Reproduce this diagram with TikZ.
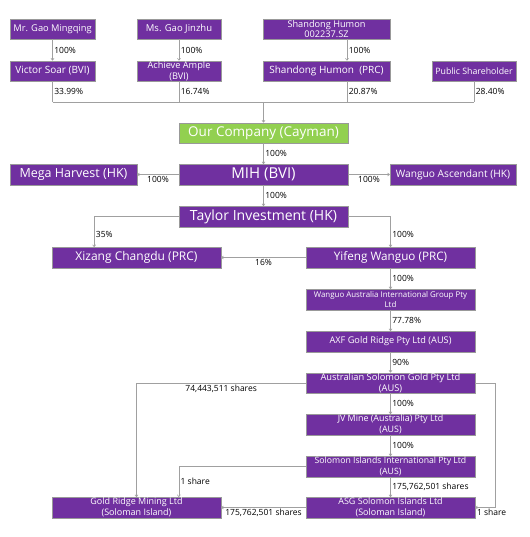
\documentclass[tikz,border=0pt]{standalone}
\usepackage{fontspec}
\setmainfont{Open Sans}
\usetikzlibrary{arrows.meta,calc}
\definecolor{ownpurple}{HTML}{7030A0}
\definecolor{owngreen}{HTML}{92D050}
\definecolor{linkgray}{HTML}{A0A0A0}
\newcommand\fsz[2]{\fontsize{#1}{#2}\selectfont}

\begin{document}
\begin{tikzpicture}[x=1pt, y=-1pt,
		entity/.style={draw=black!40, line width=0.4pt, fill=ownpurple, text=white, minimum height=20.5pt, inner sep=0pt, align=center},
		holdco/.style={entity, fill=owngreen},
		link/.style={draw=linkgray, line width=0.6pt},
		own/.style={link, -{To[length=2.5pt,width=3.5pt]}},
		pct/.style={font=\fsz{8.5}{10}, text=black, inner sep=1.5pt}]
			%%%%% START %%%%%
			\useasboundingbox (0,0) rectangle (529,537);
			
			\node[entity, minimum width=85, font=\fsz{9.3}{11}] (mingqing) at (52.5,29) {Mr. Gao Mingqing};
			\node[entity, minimum width=84, font=\fsz{9.5}{11}] (jinzhu) at (179,29) {Ms. Gao Jinzhu};
			\node[entity, minimum width=127, font=\fsz{9.2}{10.5}] (humonsz) at (326.5,29) {Shandong Humon\\002237.SZ};
			\node[entity, minimum width=85, font=\fsz{10}{11}] (victor) at (52.5,71) {Victor Soar (BVI)};
			\node[entity, minimum width=84, font=\fsz{9.2}{10.5}] (achieve) at (179,71) {Achieve Ample\\(BVI)};
			\node[entity, minimum width=127, font=\fsz{10}{11}] (humon) at (326.5,71) {Shandong Humon~~(PRC)};
			\node[entity, minimum width=84, font=\fsz{8.8}{11}] (public) at (474,71) {Public Shareholder};
			
			\coordinate (bus) at (263.5,102);
			\draw[own] (mingqing) -- node[pct, right]{100\%} (victor);
			\draw[own] (jinzhu) -- node[pct, right]{100\%} (achieve);
			\draw[own] ([xshift=20.5]humonsz.south) -- node[pct, right]{100\%} ([xshift=20.5]humon.north);
			\draw[link] (victor) -- node[pct, right]{33.99\%} (victor |- bus);
			\draw[link] (achieve) -- node[pct, right]{16.74\%} (achieve |- bus);
			\draw[link] ([xshift=20.5]humon.south) -- node[pct, right]{20.87\%} ([xshift=20.5]humon.south |- bus);
			\draw[link] (public) -- node[pct, right]{28.40\%} (public |- bus);
			\draw[link] (victor |- bus) -- (public |- bus);
			
			\node[holdco, minimum width=169, font=\fsz{13.5}{15}] (company) at (263.5,133) {Our Company (Cayman)};
			\node[entity, minimum width=169, font=\fsz{15}{17}] (mih) at (263.5,174.5) {MIH (BVI)};
			\node[entity, minimum width=127, font=\fsz{12.5}{14}] (mega) at (73.5,174.5) {Mega Harvest (HK)};
			\node[entity, minimum width=126, font=\fsz{10.2}{12}] (ascendant) at (453,174.5) {Wanguo Ascendant (HK)};
			\node[entity, minimum width=169, font=\fsz{14}{16}] (taylor) at (263.5,216.5) {Taylor Investment (HK)};
			\node[entity, minimum width=169, font=\fsz{12}{14}] (xizang) at (136.5,257.5) {Xizang Changdu (PRC)};
			\node[entity, minimum width=169, font=\fsz{11.7}{14}] (yifeng) at (390.5,257.5) {Yifeng Wanguo (PRC)};
			
			\draw[own] (bus) -- (company);
			\draw[own] (company) -- node[pct, right]{100\%} (mih);
			\draw[own] (mih) -- node[pct, below]{100\%} (mega);
			\draw[own] (mih) -- node[pct, below]{100\%} (ascendant);
			\draw[own] (mih) -- node[pct, right]{100\%} (taylor);
			\draw[own] (taylor.west) -| node[pct, pos=0.8, right]{35\%} ($(xizang.north west)!0.25!(xizang.north east)$);
			\draw[own] (taylor.east) -| node[pct, pos=0.8, right]{100\%} (yifeng.north);
			\draw[own] (yifeng) -- node[pct, below]{16\%} (xizang);
			
			\node[entity, minimum width=169, font=\fsz{7.9}{9.5}] (wanguo) at (390.5,299.5) {Wanguo Australia International Group Pty\\Ltd};
			\node[entity, minimum width=169, font=\fsz{9.2}{11}] (axf) at (390.5,341.5) {AXF Gold Ridge Pty Ltd (AUS)};
			\node[entity, minimum width=169, font=\fsz{9.3}{11}] (asg) at (390.5,383) {Australian Solomon Gold Pty Ltd\\(AUS)};
			\node[entity, minimum width=169, font=\fsz{8.9}{11}] (jv) at (390.5,424.5) {JV Mine (Australia) Pty Ltd\\(AUS)};
			\node[entity, minimum width=169, font=\fsz{8.7}{11}] (sii) at (390.5,466.5) {Solomon Islands International Pty Ltd\\(AUS)};
			\node[entity, minimum width=169, font=\fsz{9}{11}] (asgsi) at (390.5,507.5) {ASG Solomon Islands Ltd\\(Soloman Island)};
			\node[entity, minimum width=169, font=\fsz{9}{11}] (goldridge) at (136.5,507.5) {Gold Ridge Mining Ltd\\(Soloman Island)};
			
			\draw[own] (yifeng) -- node[pct, right]{100\%} (wanguo);
			\draw[own] (wanguo) -- node[pct, right]{77.78\%} (axf);
			\draw[own] (axf) -- node[pct, right]{90\%} (asg);
			\draw[own] (asg) -- node[pct, right]{100\%} (jv);
			\draw[own] (jv) -- node[pct, right]{100\%} (sii);
			\draw[own] (sii) -- node[pct, right]{175,762,501 shares} (asgsi);
			\draw[own] (asg.west) -| node[pct, pos=0.25, below]{74,443,511 shares} (goldridge.north);
			\draw[own] (sii.west) -| node[pct, pos=0.75, right]{1 share} ($(goldridge.north west)!0.75!(goldridge.north east)$);
			\coordinate (loop) at ($(asg.east)+(20,0)$);
			\draw[own] (asg.east) -- (loop) |- node[pct, at end, below right]{1 share} (asgsi.east);
			\draw[own] (asgsi) -- node[pct, below]{175,762,501 shares} (goldridge);
			
			%%%%% END %%%%%
\end{tikzpicture}
\end{document}
